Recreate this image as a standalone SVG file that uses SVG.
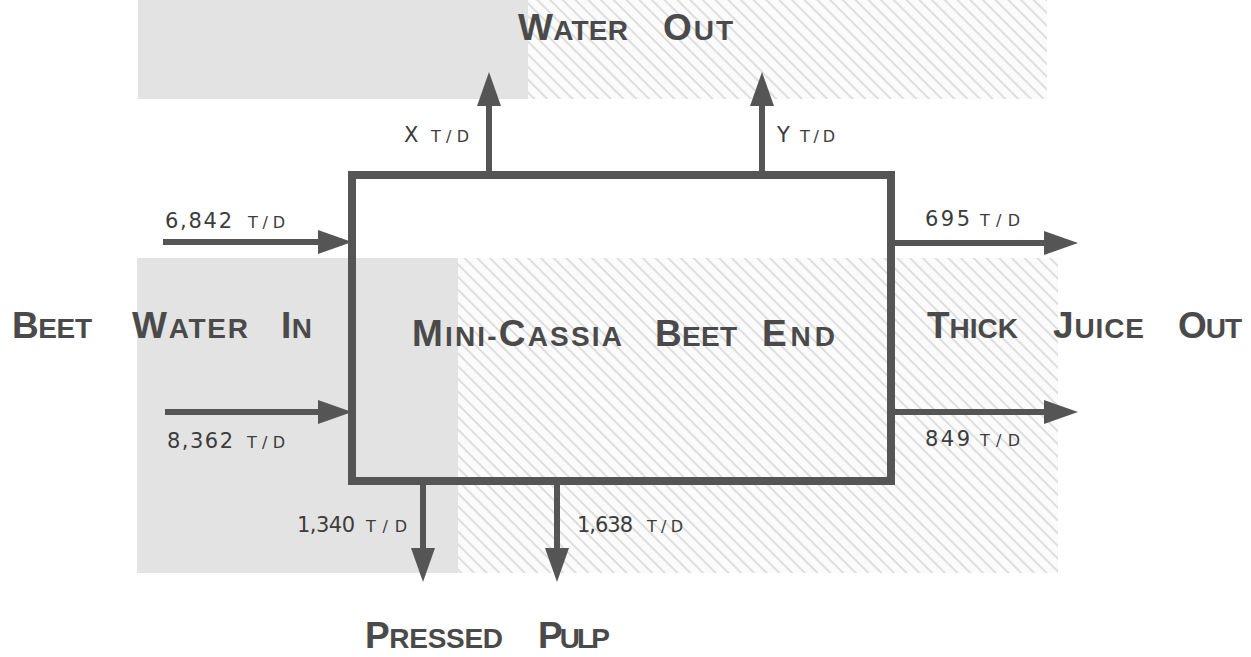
<svg xmlns="http://www.w3.org/2000/svg" width="1251" height="657" viewBox="0 0 1251 657">
  <defs>
    <pattern id="hatch" patternUnits="userSpaceOnUse" width="9" height="9" patternTransform="rotate(-45)">
      <rect width="9" height="9" fill="#fbfbfb"/>
      <line x1="2" y1="0" x2="2" y2="9" stroke="#dedede" stroke-width="2"/>
    </pattern>
    <marker id="ah" markerUnits="userSpaceOnUse" markerWidth="36" markerHeight="26" refX="4" refY="12" orient="auto" viewBox="0 0 36 26">
      <path d="M0,0 L34,12 L0,24 z" fill="#555"/>
    </marker>
  </defs>
  <style>
    .gray { fill: #e3e3e3; }
    .hatch { fill: url(#hatch); }
    .shaft { stroke: #555; stroke-width: 6; fill: none; marker-end: url(#ah); }
    .box { fill: none; stroke: #555; stroke-width: 8; stroke-linejoin: miter; }
    .title { font-family: "Liberation Sans", Arial, sans-serif; font-weight: bold; fill: #4a4a4a; }
    .big { font-size: 37px; }
    .sm { font-size: 28px; }
    .lab { font-family: "DejaVu Sans", "Liberation Sans", sans-serif; fill: #3c3c3c; }
    .num { font-size: 21px; }
    .td { font-size: 16px; }
  </style>
  <rect width="1251" height="657" fill="#ffffff"/>
  <g id="background">
    <rect class="gray" x="138" y="0" width="390" height="99"/>
    <rect class="hatch" x="528" y="0" width="519" height="99"/>
    <rect class="gray" x="137" y="258" width="321" height="315"/>
    <rect class="hatch" x="458" y="258" width="600" height="315"/>
    <rect x="356" y="179" width="531" height="79" fill="#ffffff"/>
  </g>
  <g id="connectors">
    <line class="shaft" x1="489" y1="175" x2="489" y2="102"/>
    <line class="shaft" x1="762" y1="175" x2="762" y2="102"/>
    <line class="shaft" x1="163" y1="242" x2="322" y2="242"/>
    <line class="shaft" x1="165" y1="412" x2="322" y2="412"/>
    <line class="shaft" x1="891" y1="243" x2="1048" y2="243"/>
    <line class="shaft" x1="891" y1="412" x2="1048" y2="412"/>
    <line class="shaft" x1="423" y1="481" x2="423" y2="552"/>
    <line class="shaft" x1="557" y1="481" x2="557" y2="552"/>
  </g>
  <g id="node-beet-end">
    <rect class="box" x="352" y="175" width="539" height="306"/>
    <text class="title" x="412" y="346" textLength="210" lengthAdjust="spacing"><tspan class="big">M</tspan><tspan class="sm">INI-</tspan><tspan class="big">C</tspan><tspan class="sm">ASSIA</tspan></text>
    <text class="title" x="655" y="346" textLength="82" lengthAdjust="spacing"><tspan class="big">B</tspan><tspan class="sm">EET</tspan></text>
    <text class="title" x="762" y="346" textLength="73" lengthAdjust="spacing"><tspan class="big">E</tspan><tspan class="sm">ND</tspan></text>
  </g>
  <g id="node-water-out">
    <text class="title" x="518" y="40" textLength="110" lengthAdjust="spacing"><tspan class="big">W</tspan><tspan class="sm">ATER</tspan></text>
    <text class="title" x="663" y="40" textLength="70" lengthAdjust="spacing"><tspan class="big">O</tspan><tspan class="sm">UT</tspan></text>
  </g>
  <g id="node-beet-water-in">
    <text class="title" x="12" y="338" textLength="80" lengthAdjust="spacing"><tspan class="big">B</tspan><tspan class="sm">EET</tspan></text>
    <text class="title" x="132" y="338" textLength="116" lengthAdjust="spacing"><tspan class="big">W</tspan><tspan class="sm">ATER</tspan></text>
    <text class="title" x="281" y="338" textLength="31" lengthAdjust="spacing"><tspan class="big">I</tspan><tspan class="sm">N</tspan></text>
  </g>
  <g id="node-thick-juice-out">
    <text class="title" x="927" y="338" textLength="91" lengthAdjust="spacing"><tspan class="big">T</tspan><tspan class="sm">HICK</tspan></text>
    <text class="title" x="1053" y="338" textLength="91" lengthAdjust="spacing"><tspan class="big">J</tspan><tspan class="sm">UICE</tspan></text>
    <text class="title" x="1178" y="338" textLength="64" lengthAdjust="spacing"><tspan class="big">O</tspan><tspan class="sm">UT</tspan></text>
  </g>
  <g id="node-pressed-pulp">
    <text class="title" x="365" y="648" textLength="138" lengthAdjust="spacing"><tspan class="big">P</tspan><tspan class="sm">RESSED</tspan></text>
    <text class="title" x="538" y="648" textLength="72" lengthAdjust="spacing"><tspan class="big">P</tspan><tspan class="sm">ULP</tspan></text>
  </g>
  <g id="flow-labels">
    <text class="lab num" x="404" y="142">X</text>
    <text class="lab td" x="431" y="142" textLength="38" lengthAdjust="spacing">T/D</text>
    <text class="lab num" x="777" y="142">Y</text>
    <text class="lab td" x="800" y="142" textLength="35" lengthAdjust="spacing">T/D</text>
    <text class="lab num" x="165" y="228" textLength="67" lengthAdjust="spacing">6,842</text>
    <text class="lab td" x="248" y="228" textLength="37" lengthAdjust="spacing">T/D</text>
    <text class="lab num" x="167" y="448" textLength="66" lengthAdjust="spacing">8,362</text>
    <text class="lab td" x="247" y="448" textLength="38" lengthAdjust="spacing">T/D</text>
    <text class="lab num" x="925" y="226" textLength="45" lengthAdjust="spacing">695</text>
    <text class="lab td" x="980" y="226" textLength="40" lengthAdjust="spacing">T/D</text>
    <text class="lab num" x="925" y="446" textLength="45" lengthAdjust="spacing">849</text>
    <text class="lab td" x="980" y="446" textLength="40" lengthAdjust="spacing">T/D</text>
    <text class="lab num" x="297" y="532" textLength="58" lengthAdjust="spacing">1,340</text>
    <text class="lab td" x="366" y="532" textLength="41" lengthAdjust="spacing">T/D</text>
    <text class="lab num" x="577" y="532" textLength="56" lengthAdjust="spacing">1,638</text>
    <text class="lab td" x="647" y="532" textLength="36" lengthAdjust="spacing">T/D</text>
  </g>
</svg>
